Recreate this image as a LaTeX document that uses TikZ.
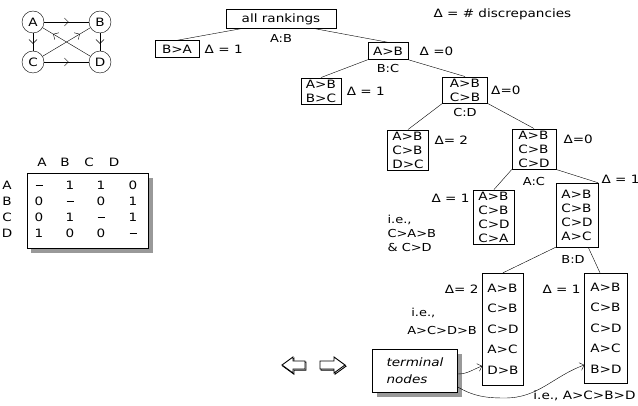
\documentclass[tikz,border=0pt]{standalone}
\usepackage{fontspec}
\setmainfont{DejaVu Sans}[FakeStretch=1.18]
\usetikzlibrary{arrows.meta,positioning,decorations.markings}

\newcommand{\nodash}{\vphantom{0}\rule[3.6pt]{7pt}{0.8pt}}

\begin{document}
\begin{tikzpicture}[
  x=1pt, y=-1pt,
  font=\fontsize{11.5}{14}\selectfont,
  vtx/.style={circle, draw, minimum size=22pt, inner sep=0pt},
  midarrow/.style={postaction={decorate},
    decoration={markings, mark=at position #1 with {\arrow{Straight Barb[length=4pt,width=8pt]}}}},
  rank/.style={draw, align=left, inner xsep=5pt, inner ysep=2pt, minimum width=40pt,
               minimum height=17pt},
  term/.style={rank, font=\fontsize{11.5}{20.5}\selectfont},
  cut/.style={font=\fontsize{11}{12}\selectfont},
  hollow/.style={draw, fill=white, line width=0.9pt, line join=miter},
  >={Straight Barb[length=4pt,width=8pt]}]
  \useasboundingbox (0,0) rectangle (638,406);

  % preference graph
  \node[vtx] (A) at (33,22) {A};
  \node[vtx] (B) at (100,22) {B};
  \node[vtx] (C) at (33,62) {C};
  \node[vtx] (D) at (100,62) {D};
  \draw[midarrow=0.55] (A) -- (B);
  \draw[midarrow=0.6] (A) -- (C);
  \draw[midarrow=0.6] (B) -- (D);
  \draw[midarrow=0.55] (C) -- (D);
  \draw[midarrow=0.78] (C) -- (B);
  \draw[midarrow=0.78] (D) -- (A);

  % discrepancy matrix
  \fill[black!40] (31,178) rectangle (153,253);
  \draw[fill=white] (27,173) rectangle (148,248);
  \foreach \lab/\x in {A/42,B/65,C/89,D/114}
    \node (h\lab) at (\x,162) {\lab};
  \foreach \lab/\y/\a/\b/\c/\d in {A/185/\nodash/1/1/0, B/201/0/\nodash/0/1,
                                   C/217/0/1/\nodash/1, D/233/1/0/0/\nodash} {
    \node (r\lab) at (7,\y) {\lab};
    \node at (39,\y) {\a};
    \node at (70,\y) {\b};
    \node at (101,\y) {\c};
    \node at (133,\y) {\d};
  }

  \node[anchor=west] (legend) at (430,14) {Δ = \# discrepancies};

  % tree of rankings
  \node[rank, minimum width=110pt, minimum height=19pt] (all) at (281,19) {all rankings};
  \node[cut] (ab-cut) at (281,38) {A:B};
  \node[rank, minimum width=44pt] (ba) at (177,49) {B>A};
  \node[right=2pt of ba] {Δ = 1};
  \node[rank] (ab) at (388,51) {A>B};
  \node[right=8pt of ab] {Δ =0};
  \node[cut] (bc-cut) at (388,68) {B:C};
  \draw ([xshift=-40pt]all.south) -- (ba.north);
  \draw ([xshift=34pt]all.south) -- (ab.north);

  \node[rank, minimum width=38pt] (abbc) at (321,91) {A>B\\B>C};
  \node[right=2pt of abbc] {Δ = 1};
  \node[rank, minimum width=45pt] (abcb) at (465,90) {A>B\\C>B};
  \node[right=0pt of abcb] {Δ=0};
  \node[cut] (cd-cut) at (465,112) {C:D};
  \draw (ab.south west) -- (abbc.north);
  \draw (ab.south east) -- (abcb.north);

  \node[rank, minimum width=41pt] (dc) at (408,150) {A>B\\C>B\\D>C};
  \node[anchor=west] at (431,140) {Δ= 2};
  \node[rank, minimum width=44pt] (cd) at (534,149) {A>B\\C>B\\C>D};
  \node[anchor=west] at (560,139) {Δ=0};
  \node[cut] (ac-cut) at (534,181) {A:C};
  \draw (abcb.south west) -- (dc.north);
  \draw (abcb.south east) -- (cd.north);

  \node[rank] (ca) at (494,217) {A>B\\C>B\\C>D\\C>A};
  \node[anchor=east] at (473,198) {Δ = 1};
  \node[anchor=west, align=left, font=\fontsize{11}{14}\selectfont] (ie-ca) at (384,233)
       {i.e.,\\C>A>B\\\& C>D};
  \node[rank, minimum width=42pt, minimum height=64pt] (ac) at (577,215) {A>B\\C>B\\C>D\\A>C};
  \node[anchor=west] at (598,179) {Δ = 1};
  \node[cut] (bd-cut) at (573,259) {B:D};
  \draw (cd.south west) -- (ca.north);
  \draw (cd.south east) -- (ac.north east);

  % terminal nodes
  \node[term, minimum width=39pt, minimum height=112pt] (db) at (503,329) {A>B\\C>B\\C>D\\A>C\\D>B};
  \node[anchor=east] at (482,289) {Δ= 2};
  \node[anchor=east, align=left, font=\fontsize{11}{18}\selectfont, inner sep=0pt] (ie-db) at (477,321)
       {\hspace{4pt}i.e.,\\A>C>D>B};
  \node[term, minimum width=43pt, minimum height=110pt] (bd) at (606,328) {A>B\\C>B\\C>D\\A>C\\B>D};
  \node[anchor=east] at (584,289) {Δ = 1};
  \node[anchor=east] (ie-bd) at (639,396) {i.e., A>C>B>D};
  \draw (ac.south west) -- (db.north);
  \draw ([xshift=-10pt]ac.south east) -- ([xshift=-6pt]bd.north);

  \fill[black!40] (377,354) rectangle (462,397);
  \node[draw, fill=white, align=left, minimum width=85pt, minimum height=43pt,
        font=\itshape\fontsize{11.5}{17}\selectfont] (tn) at (415,371) {terminal\\nodes};
  \draw[->] ([yshift=-3pt]tn.east) to[out=0, in=200] ([yshift=-37pt]db.west);
  \draw[->] ([yshift=-16pt]tn.east) to[out=-30, in=180] (505,398) to[out=0, in=200] ([yshift=-37pt]bd.west);

  % hollow arrows
  \draw[hollow, xshift=1pt, yshift=-1.2pt] (282,365) -- (293,357) -- (293,361) -- (305,361)
       -- (305,369) -- (293,369) -- (293,373) -- cycle;
  \draw[hollow] (282,365) -- (293,357) -- (293,361) -- (305,361)
       -- (305,369) -- (293,369) -- (293,373) -- cycle;
  \draw[hollow, xshift=1pt, yshift=-1.2pt] (345,365) -- (334,357) -- (334,361) -- (320,361)
       -- (320,369) -- (334,369) -- (334,373) -- cycle;
  \draw[hollow] (345,365) -- (334,357) -- (334,361) -- (320,361)
       -- (320,369) -- (334,369) -- (334,373) -- cycle;
\end{tikzpicture}
\end{document}
